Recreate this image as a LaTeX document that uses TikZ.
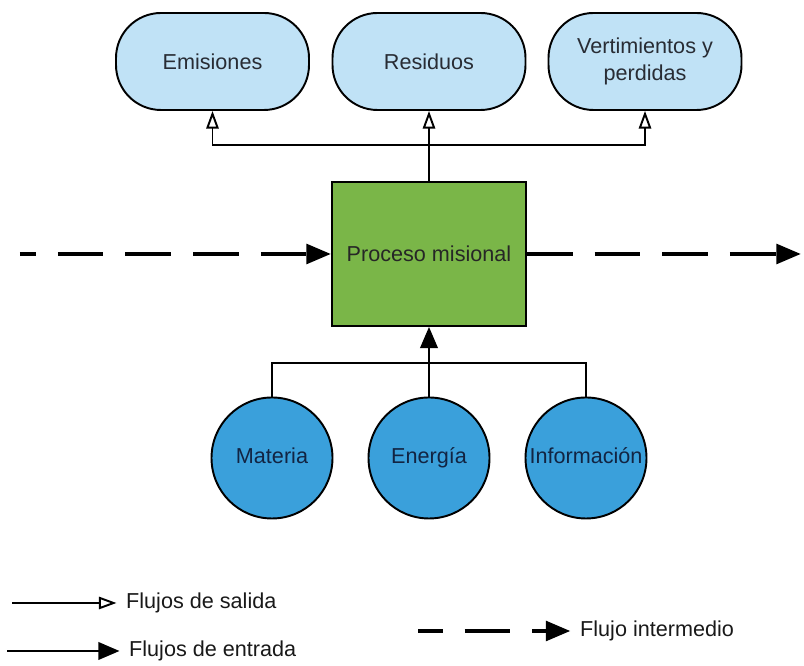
\documentclass[tikz,border=0pt]{standalone}
\usepackage{fontspec}
\setmainfont{Liberation Sans}
\usepackage{xcolor}
\usetikzlibrary{arrows.meta, positioning, calc}
\definecolor{outFill}{RGB}{192, 226, 246}
\definecolor{procFill}{RGB}{122, 182, 72}
\definecolor{inFill}{RGB}{58, 160, 219}
\definecolor{textDark}{RGB}{40, 44, 52}
\definecolor{textNavy}{RGB}{18, 36, 66}

\tikzset{
  outbox/.style={draw, line width=1.1pt, fill=outFill, rounded corners=0.9cm,
    minimum width=3.86cm, minimum height=1.94cm, align=center, text=textDark},
  procbox/.style={draw, line width=1.1pt, fill=procFill, minimum width=3.88cm,
    minimum height=2.88cm, text=black!85},
  inball/.style={draw, line width=1.1pt, fill=inFill, circle, minimum size=2.42cm,
    inner sep=0pt, text height=9pt, text depth=2.5pt, text=textNavy},
  outflow/.style={line width=1.1pt, -{Triangle[open, length=10pt, width=7pt]}},
  inflow/.style={line width=1.1pt, -{Triangle[length=12pt, width=10pt]}},
  midflow/.style={line width=2.6pt, dash pattern=on 26pt off 12.5pt,
    -{Triangle[length=14pt, width=11pt]}},
  legtext/.style={anchor=west, text=black!90},
}

\begin{document}
\begin{tikzpicture}[font=\fontsize{12.3}{15}\selectfont]
    \useasboundingbox (0,0) rectangle (16.08,13.32);
    % Output boxes
    \node[outbox] (emi) at (4.25,12.09) {Emisiones};
    \node[outbox] (res) at (8.58,12.09) {Residuos};
    \node[outbox] (vert) at (12.9,12.09) {Vertimientos y\\perdidas};
    % Process
    \node[procbox] (proc) at (8.58,8.24) {Proceso misional};
    % Inputs
    \node[inball] (mat) at (5.44,4.16) {Materia};
    \node[inball] (ene) at (8.58,4.16) {Energía};
    \node[inball] (inf) at (11.72,4.16) {Información};
    % Output flows
    \coordinate (busOut) at (8.58,10.42);
    \draw[outflow] (proc.north) -- (res.south);
    \draw[outflow] (busOut) -| (emi.south);
    \draw[outflow] (busOut) -| (vert.south);
    % Input flows
    \coordinate (busIn) at (8.58,6.06);
    \draw[line width=1.1pt] (mat.north) |- (busIn) -| (inf.north);
    \draw[inflow] (ene.north) -- (proc.south);
    % Intermediate flow
    \coordinate (midIn) at (0.4,8.24);
    \coordinate (midOut) at (16.02,8.24);
    \draw[midflow, dash phase=17pt] (midIn) -- (proc.west);
    \draw[midflow] (proc.east) -- (midOut);
    % Legend
    \node[legtext] (legOut) at (2.40,1.26) {Flujos de salida};
    \node[legtext] (legIn) at (2.46,0.30) {Flujos de entrada};
    \node[legtext] (legMid) at (11.48,0.70) {Flujo intermedio};
    \coordinate (legOutStart) at (0.24,1.26);
    \coordinate (legInStart) at (0.14,0.30);
    \coordinate (legMidStart) at (8.36,0.70);
    \draw[outflow] (legOutStart) -- ([xshift=-2pt]legOut.west);
    \draw[inflow] (legInStart) -- ([xshift=-2pt]legIn.west);
    \draw[midflow, dash phase=12pt] (legMidStart) -- ([xshift=-2pt]legMid.west);
\end{tikzpicture}
\end{document}
